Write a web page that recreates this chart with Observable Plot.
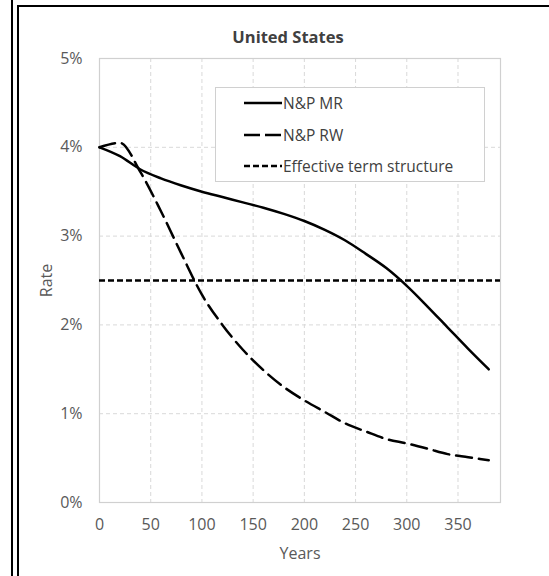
<!DOCTYPE html>
<html><head><meta charset="utf-8">
<script src="https://cdn.jsdelivr.net/npm/d3@7"></script>
<script src="https://cdn.jsdelivr.net/npm/@observablehq/plot@0.6"></script>
<style>
body{margin:0;background:#fff;}
#wrap{position:relative;width:549px;height:576px;overflow:hidden;font-family:"Open Sans",sans-serif;background:#fff;}
#chart{position:absolute;left:0;top:0;}
.bl{position:absolute;background:#000;}
#title{position:absolute;left:188px;width:200px;top:26px;line-height:22px;text-align:center;font-weight:bold;font-size:16.5px;color:#404040;}
#legend{position:absolute;left:215px;top:87px;width:268px;height:93px;border:1px solid #d0d0d0;background:#fff;}
.lrow{position:absolute;left:0;height:24px;width:268px;}
.lrow svg{position:absolute;left:28px;top:0;}
.lrow span{position:absolute;left:67px;top:0;line-height:24px;font-size:15.5px;color:#404040;white-space:nowrap;}
svg.plot-chart text{font-size:16px;}
</style></head><body>
<div id="wrap">
  <div id="chart"></div>
  <div class="bl" style="left:11px;top:0;width:2px;height:576px"></div>
  <div class="bl" style="left:17px;top:5px;width:2px;height:571px"></div>
  <div class="bl" style="left:17px;top:5px;width:532px;height:2px"></div>
  <div id="title"></div>
  <div id="legend"></div>
</div>
<script>
// ---- data ----
const chartTitle = "United States";
const years = [0, 20, 40, 60, 80, 100, 120, 140, 160, 180, 200, 220, 240, 260, 280, 300, 320, 340, 360, 380];
const mrRates = [4.0, 3.9, 3.75, 3.65, 3.57, 3.5, 3.44, 3.38, 3.32, 3.25, 3.17, 3.07, 2.95, 2.8, 2.64, 2.44, 2.21, 1.97, 1.73, 1.5];
const rwRates = [4.0, 4.05, 3.72, 3.28, 2.8, 2.34, 2.0, 1.72, 1.49, 1.3, 1.15, 1.02, 0.89, 0.8, 0.715, 0.665, 0.607, 0.545, 0.51, 0.475];
const effectiveRate = [2.5];
const seriesNames = ["N&P MR", "N&P RW", "Effective term structure"];
const xTicks = [0, 50, 100, 150, 200, 250, 300, 350];
const yTicks = [0, 1, 2, 3, 4, 5];
const xLabel = "Years";
const yLabel = "Rate";

// ---- styles ----
const dashes = [null, "16,7", "6,3"];
const lineW = 2.5;

const mr = years.map((y, i) => ({year: y, rate: mrRates[i]}));
const rw = years.map((y, i) => ({year: y, rate: rwRates[i]}));

const plot = Plot.plot({
  width: 549,
  height: 576,
  marginLeft: 99,
  marginRight: 49,
  marginTop: 58,
  marginBottom: 74,
  className: "plot-chart",
  style: {fontFamily: "'Open Sans', sans-serif", fontSize: "16px", color: "#595959", background: "transparent"},
  x: {domain: [0, 391.5], ticks: xTicks, label: xLabel},
  y: {domain: [0, 5], ticks: yTicks, label: yLabel},
  marks: [
    Plot.gridX(xTicks.slice(1), {stroke: "#d9d9d9", strokeOpacity: 1, strokeDasharray: "4,3"}),
    Plot.gridY(yTicks.slice(1, -1), {stroke: "#d9d9d9", strokeOpacity: 1, strokeDasharray: "4,3"}),
    Plot.frame({stroke: "#d0d0d0", strokeWidth: 1.2}),
    Plot.axisX(xTicks, {tickSize: 0, tickPadding: 16, label: xLabel, labelAnchor: "center", labelArrow: "none", labelOffset: 56, fontSize: 16}),
    Plot.axisY(yTicks, {tickSize: 0, tickPadding: 17, tickFormat: d => d + "%", label: yLabel, labelAnchor: "center", labelArrow: "none", labelOffset: 59, fontSize: 16}),
    Plot.ruleY(effectiveRate, {stroke: "#000", strokeWidth: lineW, strokeDasharray: dashes[2]}),
    Plot.line(rw, {x: "year", y: "rate", stroke: "#000", strokeWidth: lineW, strokeDasharray: dashes[1], curve: "monotone-x"}),
    Plot.line(mr, {x: "year", y: "rate", stroke: "#000", strokeWidth: lineW, curve: "monotone-x"})
  ]
});
document.getElementById("chart").appendChild(plot);
document.getElementById("title").textContent = chartTitle;

const leg = document.getElementById("legend");
const rowTops = [3, 35, 66];
seriesNames.forEach((name, i) => {
  const row = document.createElement("div");
  row.className = "lrow";
  row.style.top = rowTops[i] + "px";
  const svg = d3.create("svg").attr("width", 38).attr("height", 24);
  svg.append("line").attr("x1", 0).attr("x2", 38).attr("y1", 12).attr("y2", 12)
    .attr("stroke", "#000").attr("stroke-width", lineW)
    .attr("stroke-dasharray", dashes[i] ? (i === 1 ? "16,5" : "6,3") : null);
  row.appendChild(svg.node());
  const s = document.createElement("span");
  s.textContent = name;
  row.appendChild(s);
  leg.appendChild(row);
});
</script>
</body></html>
